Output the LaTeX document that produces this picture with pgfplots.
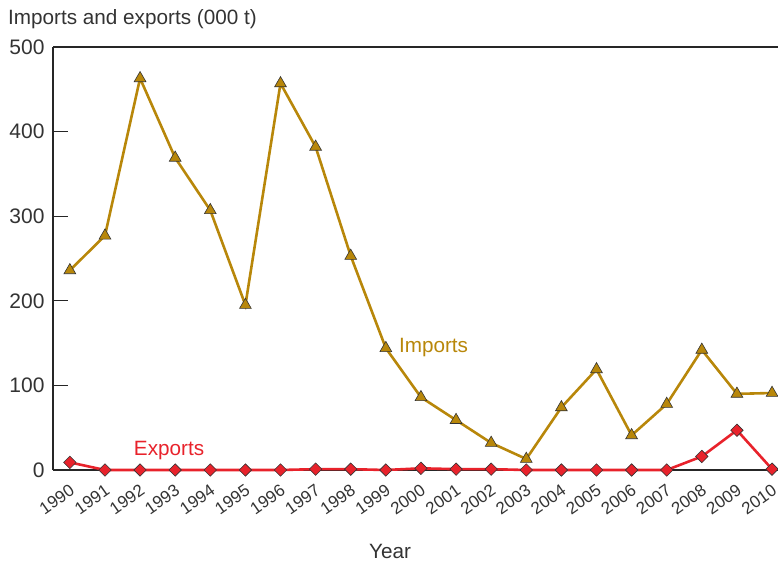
\documentclass[border=0pt]{standalone}
\usepackage{pgfplots}
\pgfplotsset{compat=1.18}
\usepackage{fontspec}
\setmainfont{Liberation Sans}
\definecolor{gold}{HTML}{B8870A}
\definecolor{expred}{HTML}{E8222B}
\definecolor{txt}{HTML}{333333}
\begin{document}
\begin{tikzpicture}[x=1pt,y=1pt]
\path[use as bounding box] (0,0) rectangle (778,565);
\begin{axis}[
  at={(53pt,95pt)}, anchor=south west,
  width=725pt, height=423pt, scale only axis,
  xmin=1989.52, xmax=2010.17, ymin=0, ymax=500,
  axis lines=left, axis line style={-, line width=1.3pt, color=black!85},
  xtick={1990,...,2010},
  xticklabels={1990,1991,1992,1993,1994,1995,1996,1997,1998,1999,2000,2001,2002,2003,2004,2005,2006,2007,2008,2009,2010},
  x tick style={draw=none},
  ytick={0,100,...,500},
  y tick style={line width=1.3pt, color=black!85},
  tick align=inside, major tick length=15pt,
  ytick pos=left,
  yticklabel style={font=\fontsize{21}{24}\selectfont, text=txt, xshift=-5pt},
  xticklabel style={font=\fontsize{17}{20}\selectfont, text=txt, rotate=35, anchor=north east, inner sep=0pt, xshift=-8.5pt, yshift=-10.5pt},
  /pgf/number format/assume math mode=true,
  clip=false,
]
\draw[line width=1.3pt, color=black!85] (rel axis cs:0,1) -- (rel axis cs:1,1);
\addplot[color=gold, line width=2.6pt, mark=triangle*, mark size=6.8pt,
  mark options={fill=gold, draw=black!80, line width=0.6pt}] coordinates {
(1990,236)(1991,277)(1992,463)(1993,369)(1994,307)(1995,195)(1996,457)(1997,382)
(1998,253)(1999,144)(2000,86)(2001,59)(2002,32)(2003,13)(2004,74)(2005,119)
(2006,41)(2007,78)(2008,142)(2009,90)(2010,91)};
\addplot[color=expred, line width=2.6pt, mark=square*, mark size=4.4pt,
  mark options={fill=expred, draw=black!80, line width=0.6pt, rotate=45}] coordinates {
(1990,9)(1991,0)(1992,0)(1993,0)(1994,0)(1995,0)(1996,0)(1997,1)
(1998,1)(1999,0)(2000,2)(2001,1)(2002,1)(2003,0)(2004,0)(2005,0)
(2006,0)(2007,0)(2008,16)(2009,47)(2010,1)};
\node[anchor=west, text=gold, font=\fontsize{20.7}{24}\selectfont, inner sep=0pt] at (axis cs:1999.37,145) {Imports};
\node[anchor=west, text=expred, font=\fontsize{20.7}{24}\selectfont, inner sep=0pt] at (axis cs:1991.82,23.6) {Exports};
\end{axis}
\node[anchor=west, text=txt, font=\fontsize{20.7}{24}\selectfont, inner sep=0pt] at (8,546) {Imports and exports (000 t)};
\node[text=txt, font=\fontsize{20.7}{24}\selectfont, inner sep=0pt] at (390,14) {Year};
\end{tikzpicture}
\end{document}
